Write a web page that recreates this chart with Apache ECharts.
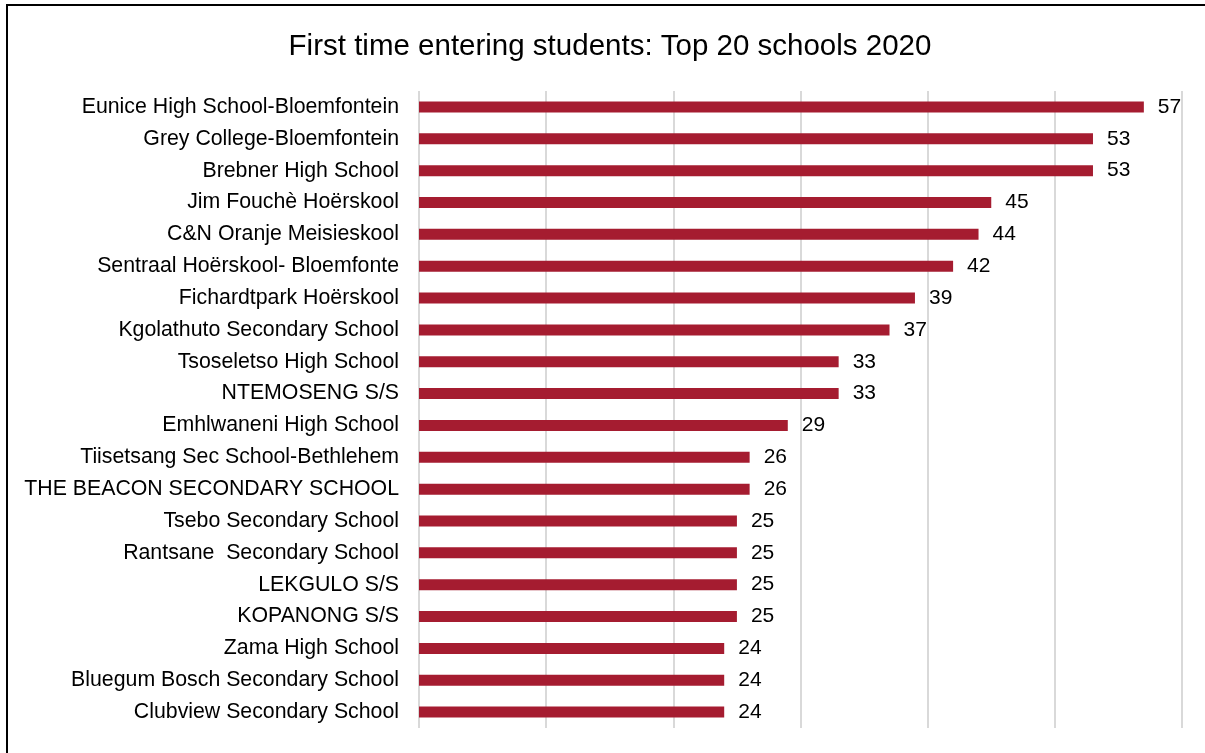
<!DOCTYPE html>
<html>
<head>
<meta charset="utf-8">
<style>
  html, body { margin: 0; padding: 0; background: #fff; }
  #chart { width: 1205px; height: 753px; }
</style>
<script src="https://cdn.jsdelivr.net/npm/echarts@6/dist/echarts.min.js"></script>
</head>
<body>
<div id="chart"></div>
<script>
// schools, top to bottom as shown
var schools = [
  'Eunice High School-Bloemfontein',
  'Grey College-Bloemfontein',
  'Brebner High School',
  'Jim Fouchè Hoërskool',
  'C&N Oranje Meisieskool',
  'Sentraal Hoërskool- Bloemfonte',
  'Fichardtpark Hoërskool',
  'Kgolathuto Secondary School',
  'Tsoseletso High School',
  'NTEMOSENG S/S',
  'Emhlwaneni High School',
  'Tiisetsang Sec School-Bethlehem',
  'THE BEACON SECONDARY SCHOOL',
  'Tsebo Secondary School',
  'Rantsane  Secondary School',
  'LEKGULO S/S',
  'KOPANONG S/S',
  'Zama High School',
  'Bluegum Bosch Secondary School',
  'Clubview Secondary School'
];
var students = [57, 53, 53, 45, 44, 42, 39, 37, 33, 33, 29, 26, 26, 25, 25, 25, 25, 24, 24, 24];

var chart = echarts.init(document.getElementById('chart'));
var font = 'Liberation Sans, Arial, sans-serif';

var option = {
  backgroundColor: '#fff',
  animation: false,
  title: {
    text: 'First time entering students: Top 20 schools 2020',
    left: 605,
    textAlign: 'center',
    top: 27,
    textStyle: { fontFamily: font, fontSize: 29.5, fontWeight: 'normal', color: '#000' }
  },
  graphic: [{
    type: 'rect',
    shape: { x: 7, y: 5, width: 1300, height: 800 },
    style: { fill: 'none', stroke: '#000', lineWidth: 2 },
    silent: true
  }],
  grid: { left: 419, right: 23, top: 91, bottom: 25 },
  xAxis: {
    type: 'value',
    min: 0,
    max: 60,
    interval: 10,
    axisLabel: { show: false },
    axisTick: { show: false },
    axisLine: { show: false },
    splitLine: { lineStyle: { color: '#d9d9d9', width: 2 } }
  },
  yAxis: {
    type: 'category',
    inverse: true,
    data: schools,
    axisTick: { show: false },
    axisLine: { show: false },
    axisLabel: { fontFamily: font, fontSize: 21.3, color: '#000', margin: 20, padding: [4, 0, 0, 0] }
  },
  series: [{
    type: 'bar',
    data: students,
    barWidth: 11,
    itemStyle: { color: '#a51c30' },
    label: {
      show: true,
      position: 'right',
      distance: 14,
      fontFamily: font,
      fontSize: 21,
      color: '#000',
      padding: [4, 0, 0, 0]
    }
  }]
};
chart.setOption(option);
</script>
</body>
</html>
